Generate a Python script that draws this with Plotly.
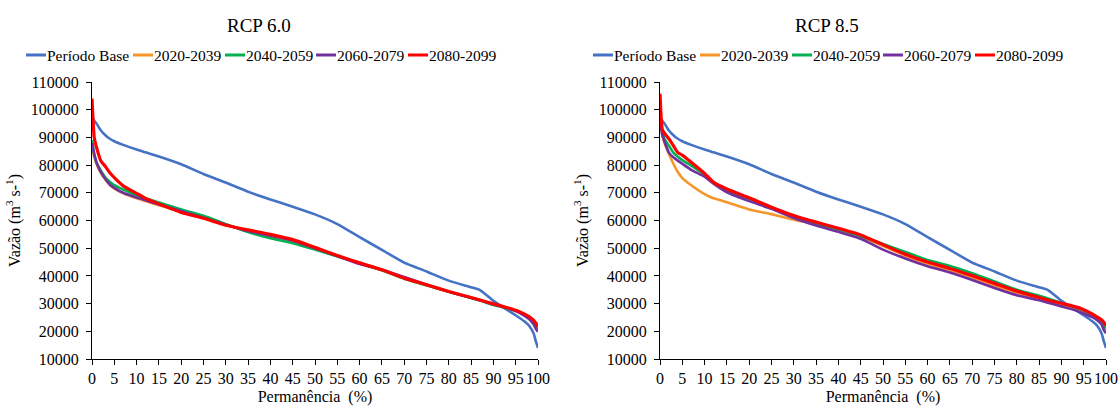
import plotly.graph_objects as go

W, H = 1119, 410

perm = [0, 0.5, 1, 2, 3, 4, 5, 7, 10, 12, 15, 20, 25, 30, 35, 40, 45, 50,
        55, 60, 65, 70, 75, 80, 85, 87, 90, 93, 95, 97, 98, 99, 99.5, 100]

base = [97500, 96000, 95000, 92500, 90800, 89500, 88600, 87300, 85600, 84600,
        83100, 80300, 76800, 73700, 70400, 67600, 65000, 62200, 58700, 54000,
        49400, 44800, 41600, 38300, 35900, 34900, 31000, 27800, 25800, 23500,
        22000, 19300, 16500, 14000]

# RCP 6.0
r60_2020 = [86000, 83000, 80500, 77000, 74700, 72800, 71500, 69800, 68000, 67000,
            65500, 63200, 61000, 58600, 56000, 54000, 52300, 49800, 47200, 44600,
            42100, 39200, 36700, 34300, 32100, 31200, 29800, 28500, 27500, 26100,
            25100, 23700, 22600, 21300]
r60_2040 = [89000, 84000, 81000, 78000, 75500, 74000, 72800, 71200, 69200, 68000,
            66500, 64000, 61700, 58700, 55800, 53600, 51800, 49500, 47000, 44600,
            42000, 39000, 36600, 34300, 32000, 31100, 29500, 28300, 27400, 26000,
            25000, 23500, 22500, 21000]
r60_2060 = [88000, 84000, 81000, 77500, 75000, 73000, 71800, 70000, 68300, 67300,
            65800, 63400, 61000, 58500, 56200, 54500, 52700, 50000, 47200, 44300,
            42300, 39600, 36900, 34300, 32100, 31200, 29800, 28400, 27300, 25600,
            24400, 22500, 21000, 19800]
r60_2080 = [104000, 90000, 86500, 81500, 79500, 77200, 75500, 72500, 69800, 68000,
            66000, 62900, 60800, 58300, 56600, 55000, 53100, 50300, 47400, 44700,
            42200, 39200, 36800, 34400, 32200, 31300, 29900, 28600, 27600, 26200,
            25300, 24000, 23000, 21800]

# RCP 8.5
r85_2020 = [96100, 91000, 88000, 84000, 80500, 77500, 75300, 72700, 69500, 68000,
            66600, 64000, 62300, 60300, 58600, 56300, 54000, 50800, 47300, 44400,
            42000, 39300, 36400, 33800, 31800, 30900, 29700, 28400, 27300, 25800,
            24700, 23300, 22000, 20500]
r85_2040 = [98500, 92000, 89500, 87000, 84500, 83000, 81800, 79800, 76600, 73800,
            70800, 67800, 64600, 61500, 58900, 56800, 54300, 51500, 48600, 45700,
            43600, 41000, 38000, 35000, 32800, 31800, 30200, 28700, 27500, 25800,
            24600, 23200, 22300, 21000]
r85_2060 = [97300, 91000, 88500, 84500, 82800, 81600, 80500, 78300, 75800, 73300,
            70200, 67000, 64200, 60900, 58200, 55900, 53400, 49500, 46300, 43500,
            41200, 38500, 35600, 33000, 31200, 30300, 29000, 27700, 26400, 25000,
            24000, 22500, 20500, 19300]
r85_2080 = [105800, 93000, 91500, 89500, 87000, 84500, 83600, 81000, 77000, 73800,
            71400, 68200, 64800, 61800, 59400, 57200, 54800, 51300, 47800, 45000,
            42700, 40100, 37300, 34500, 32200, 31300, 30100, 28900, 27800, 26200,
            25200, 24200, 23300, 22000]

series_names = ["Período Base", "2020-2039", "2040-2059", "2060-2079", "2080-2099"]
colors = ["#4472C4", "#F5962A", "#00B050", "#7030A0", "#FF0000"]
widths = [2.6, 2.6, 2.6, 2.6, 3.2]
titles = ["RCP 6.0", "RCP 8.5"]
panels = [[base, r60_2020, r60_2040, r60_2060, r60_2080],
          [base, r85_2020, r85_2040, r85_2060, r85_2080]]

x_ticks = list(range(0, 101, 5))
y_ticks = list(range(10000, 110001, 10000))
y_tick_text = [str(v) for v in y_ticks]
x_tick_text = [str(v) for v in x_ticks]

FONT = "Liberation Serif"

px_left = [92, 660]
px_w = 446
py_top, py_bot = 82, 359

fig = go.Figure()
layout = dict(
    width=W, height=H, autosize=False,
    margin=dict(l=0, r=0, t=0, b=0, pad=0, autoexpand=False),
    paper_bgcolor="white", plot_bgcolor="white",
    showlegend=False,
    font=dict(family=FONT, size=16, color="#000000"),
)

annotations = []
shapes = []
for i in range(2):
    xa = "x" if i == 0 else "x2"
    ya = "y" if i == 0 else "y2"
    for s in range(5):
        fig.add_trace(go.Scatter(
            x=perm, y=panels[i][s], mode="lines", name=series_names[s],
            line=dict(color=colors[s], width=widths[s], shape="spline",
                      smoothing=0.5),
            xaxis=xa, yaxis=ya, showlegend=False))
    x0 = px_left[i] / W
    x1 = (px_left[i] + px_w) / W
    axis_common = dict(showgrid=False, zeroline=False, showline=True,
                       automargin=False,
                       linecolor="#000000", linewidth=1, ticks="outside",
                       ticklen=5, tickcolor="#000000", tickwidth=1,
                       tickfont=dict(family=FONT, size=16, color="#000000"))
    layout["xaxis" if i == 0 else "xaxis2"] = dict(
        axis_common, domain=[x0, x1], range=[0, 100], tickmode="array",
        tickvals=x_ticks, ticktext=x_tick_text, tickangle=0,
        anchor=ya,
        title=dict(text="Permanência  (%)", standoff=4,
                   font=dict(family=FONT, size=16, color="#000000")))
    layout["yaxis" if i == 0 else "yaxis2"] = dict(
        axis_common, domain=[1 - py_bot / H, 1 - py_top / H],
        range=[10000, 110000], tickmode="array", tickvals=y_ticks,
        ticktext=y_tick_text, anchor=xa,
        ticklabelstandoff=4,
        title=dict(text="Vazão (m<sup>3</sup> s-<sup>1</sup>)", standoff=6,
                   font=dict(family=FONT, size=16, color="#000000")))
    annotations.append(dict(
        text=titles[i], x=(259 + i * 568) / W, y=1 - 25 / H,
        xref="paper", yref="paper", showarrow=False,
        xanchor="center", yanchor="middle",
        font=dict(family=FONT, size=19, color="#000000")))
    line_starts = [26, 133, 225, 316, 408]
    for s in range(5):
        lx = line_starts[s] + i * 567
        shapes.append(dict(type="line", xref="paper", yref="paper",
                           x0=lx / W, x1=(lx + 20) / W,
                           y0=1 - 55 / H, y1=1 - 55 / H,
                           line=dict(color=colors[s], width=3)))
        annotations.append(dict(
            text=series_names[s], x=(lx + 20) / W, y=1 - 55 / H,
            xref="paper", yref="paper", showarrow=False,
            xanchor="left", yanchor="middle", xshift=-1,
            font=dict(family=FONT, size=15.5, color="#000000")))

layout["annotations"] = annotations
layout["shapes"] = shapes
fig.update_layout(**layout)
fig.write_html("out.html")
